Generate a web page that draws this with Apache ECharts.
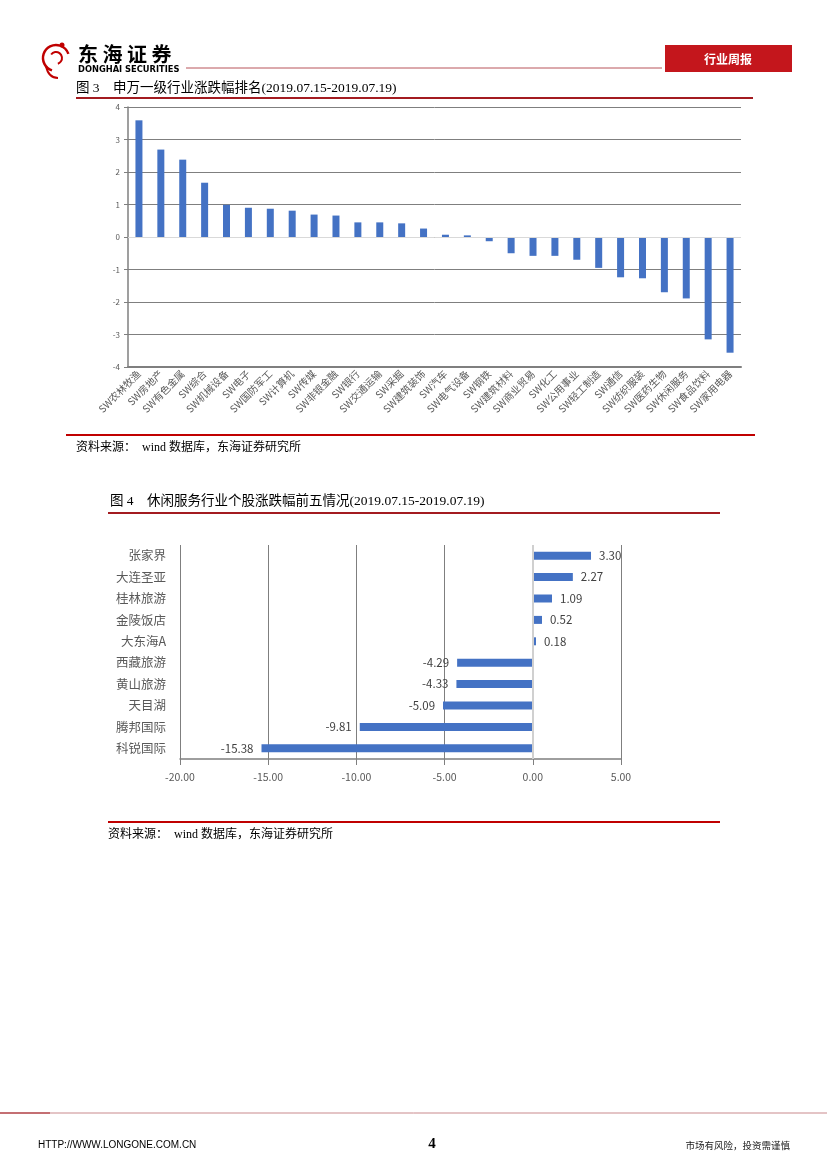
<!DOCTYPE html>
<html>
<head>
<meta charset="utf-8">
<script src="https://cdn.jsdelivr.net/npm/echarts@6/dist/echarts.min.js"></script>
<style>
html,body{margin:0;padding:0;background:#fff;}
#c{width:827px;height:1170px;}
</style>
</head>
<body>
<div id="c"></div>
<script>
// Chart 1 data: 申万一级行业涨跌幅 (%)
var industries = ['SW农林牧渔','SW房地产','SW有色金属','SW综合','SW机械设备','SW电子','SW国防军工','SW计算机','SW传媒','SW非银金融','SW银行','SW交通运输','SW采掘','SW建筑装饰','SW汽车','SW电气设备','SW钢铁','SW建筑材料','SW商业贸易','SW化工','SW公用事业','SW轻工制造','SW通信','SW纺织服装','SW医药生物','SW休闲服务','SW食品饮料','SW家用电器'];
var industryChange = [3.59,2.69,2.38,1.67,0.99,0.90,0.87,0.81,0.69,0.66,0.45,0.45,0.42,0.26,0.07,0.05,-0.13,-0.50,-0.58,-0.58,-0.70,-0.95,-1.24,-1.27,-1.70,-1.89,-3.15,-3.56];
var y1Ticks = [-4,-3,-2,-1,0,1,2,3,4];

// Chart 2 data: 休闲服务行业个股涨跌幅 (%), top to bottom
var stocks = ['张家界','大连圣亚','桂林旅游','金陵饭店','大东海A','西藏旅游','黄山旅游','天目湖','腾邦国际','科锐国际'];
var stockChange = [3.30,2.27,1.09,0.52,0.18,-4.29,-4.33,-5.09,-9.81,-15.38];
var x2Ticks = [-20,-15,-10,-5,0,5];

var chart = echarts.init(document.getElementById('c'));
var RED = '#c00000';
var serif = '"Liberation Serif","Noto Sans CJK SC",serif';
var sans = '"Noto Sans CJK SC","Liberation Sans",sans-serif';

function txt(x,y,s,size,opts){
  opts = opts||{};
  return {type:'text', style:{x:x,y:y,text:s,fontSize:size,fontFamily:opts.font||serif,fill:opts.fill||'#000',fontWeight:opts.weight||'normal',textAlign:opts.align||'left',textVerticalAlign:'middle'}, z:10};
}
function line(x1,y1,x2,y2,color,w){
  return {type:'line', shape:{x1:x1,y1:y1,x2:x2,y2:y2}, style:{stroke:color,lineWidth:w}, z:10};
}

var graphics = [
  // logo swirl
  {type:'arc', shape:{cx:56,cy:58,r:13,startAngle:Math.PI*0.6,endAngle:Math.PI*1.9}, style:{stroke:RED,lineWidth:2.5,fill:null}, z:10},
  {type:'arc', shape:{cx:56,cy:58,r:6,startAngle:Math.PI*1.2,endAngle:Math.PI*2.4}, style:{stroke:RED,lineWidth:2,fill:null}, z:10},
  {type:'bezierCurve', shape:{x1:46,y1:66,x2:58,y2:78,cpx1:48,cpy1:76,cpx2:54,cpy2:78}, style:{stroke:RED,lineWidth:2,fill:null}, z:10},
  {type:'circle', shape:{cx:62,cy:45,r:2.5}, style:{fill:RED}, z:10},
  txt(78,54,'东 海 证 券',20,{font:sans,weight:'bold'}),
  txt(78,70,'DONGHAI SECURITIES',8.3,{font:'"DejaVu Sans",sans-serif',weight:'bold'}),
  line(186,68,662,68,'#b8545a',1),
  {type:'rect', shape:{x:665,y:45,width:127,height:27}, style:{fill:'#c4161c'}, z:10},
  txt(728,59,'行业周报',12,{font:sans,weight:'bold',fill:'#fff',align:'center'}),

  txt(76,88,'图 3　申万一级行业涨跌幅排名(2019.07.15-2019.07.19)',13.5),
  line(76,98,753,98,'#a31b20',2),
  line(66,435,755,435,RED,2),
  txt(76,448,'资料来源：  wind 数据库，东海证券研究所',12),

  txt(110,501,'图 4　休闲服务行业个股涨跌幅前五情况(2019.07.15-2019.07.19)',13.5),
  line(108,513,720,513,'#a31b20',2),
  line(108,822,720,822,RED,2),
  txt(108,835,'资料来源：  wind 数据库，东海证券研究所',12),

  line(0,1113,827,1113,'#c9898c',1),
  line(0,1113,50,1113,'#a31b20',1.2),
  txt(38,1145,'HTTP://WWW.LONGONE.COM.CN',10,{font:'"Liberation Sans Narrow","Liberation Sans",sans-serif'}),
  txt(432,1144,'4',15,{font:serif,weight:'bold',align:'center'}),
  txt(790,1145,'市场有风险，投资需谨慎',9.5,{font:sans,align:'right',fill:'#222'})
];

var option = {
  animation:false,
  backgroundColor:'#fff',
  graphic: {elements: graphics},
  grid:[
    {left:128, right:86, top:107, bottom:803, containLabel:false},
    {left:180, right:206, top:545, bottom:411, containLabel:false}
  ],
  xAxis:[
    {gridIndex:0, type:'category', data:industries,
      axisLine:{onZero:false, lineStyle:{color:'#7f7f7f', width:2}},
      axisTick:{show:false},
      axisLabel:{rotate:45, fontSize:10, color:'#595959', fontFamily:sans, margin:5, interval:0}
    },
    {gridIndex:1, type:'value', min:-20, max:5, interval:5,
      axisLine:{show:true, lineStyle:{color:'#7f7f7f', width:1.5}},
      axisTick:{show:true, length:6, lineStyle:{color:'#7f7f7f'}},
      splitLine:{show:true, lineStyle:{color:'#7f7f7f', width:1}},
      axisLabel:{fontSize:10.5, color:'#595959', fontFamily:sans, margin:13,
        formatter:function(v){return v.toFixed(2);}}
    }
  ],
  yAxis:[
    {gridIndex:0, type:'value', min:-4, max:4, interval:1,
      axisLine:{show:true, lineStyle:{color:'#7f7f7f', width:1.5}},
      axisTick:{show:true, length:4, lineStyle:{color:'#7f7f7f'}},
      splitLine:{show:true, lineStyle:{color:'#7f7f7f', width:1}},
      axisLabel:{fontSize:8, color:'#595959', fontFamily:sans, margin:8}
    },
    {gridIndex:1, type:'category', data:stocks, inverse:true,
      axisLine:{show:false}, axisTick:{show:false},
      axisLabel:{fontSize:12.5, color:'#595959', fontFamily:sans, margin:14}
    }
  ],
  series:[
    {type:'bar', xAxisIndex:0, yAxisIndex:0, data:industryChange, barWidth:7,
      itemStyle:{color:'#4472c4'},
      markLine:{silent:true, symbol:'none', label:{show:false}, lineStyle:{color:'#d9d9d9', type:'solid', width:1}, data:[{yAxis:0}]},
      z:3
    },
    {type:'bar', xAxisIndex:1, yAxisIndex:1, barWidth:8,
      data: stockChange.map(function(v){ return {value:v, label:{position: v<0 ? 'left' : 'right'}}; }),
      itemStyle:{color:'#4472c4'},
      label:{show:true, fontSize:11.5, color:'#404040', fontFamily:sans, distance:8,
        formatter:function(p){return p.value.toFixed(2);}},
      markLine:{silent:true, symbol:'none', label:{show:false}, lineStyle:{color:'#d0d0d0', type:'solid', width:2}, data:[{xAxis:0}]},
      z:3
    }
  ]
};
chart.setOption(option);
</script>
</body>
</html>
